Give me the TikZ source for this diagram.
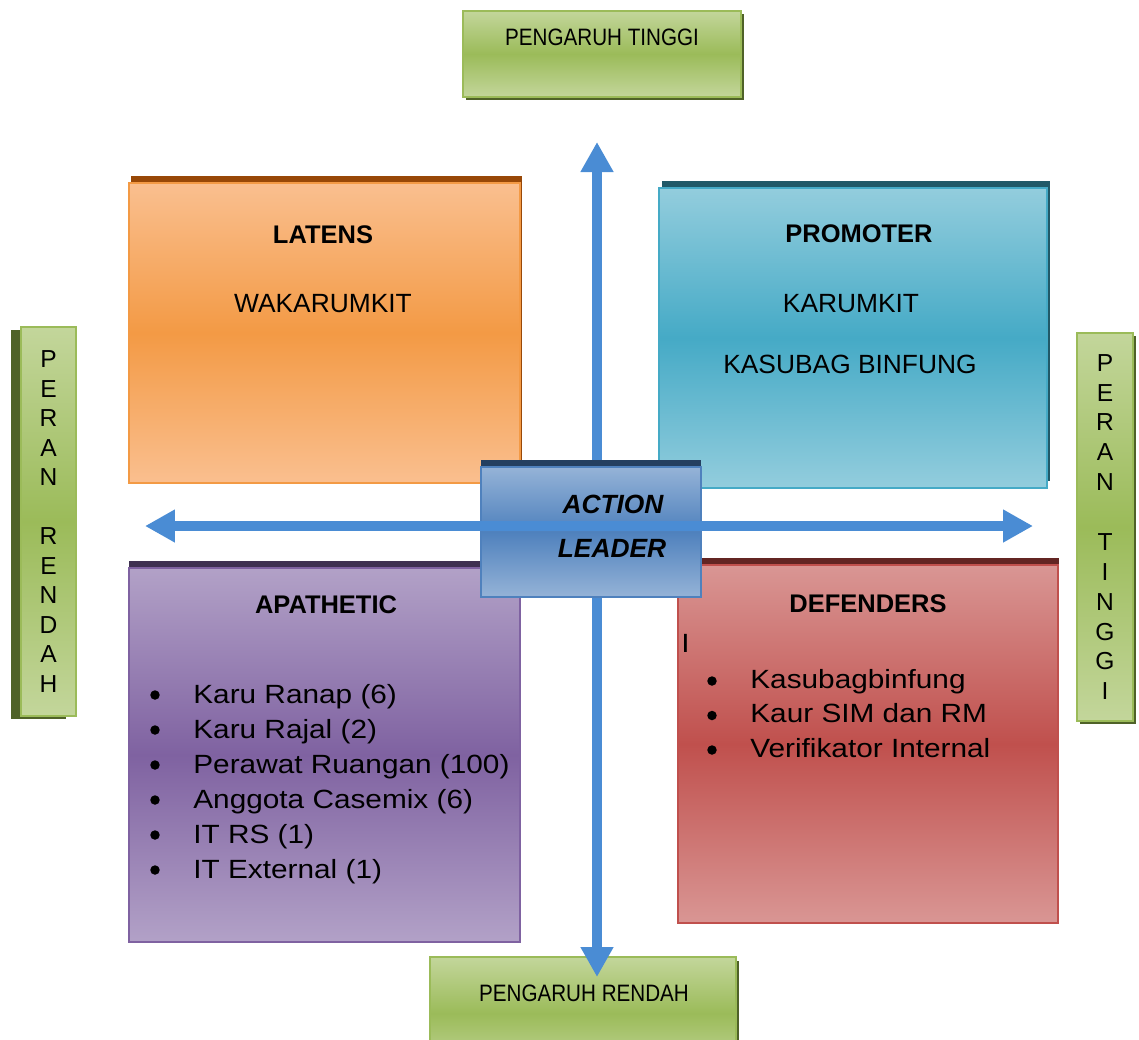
\documentclass[tikz,border=0pt]{standalone}
\usepackage{fontspec}
\setmainfont{Liberation Sans}
\newfontfamily\narrowfont{Liberation Sans}[FakeStretch=0.87]
\newfontfamily\listfont{Liberation Sans}[FakeStretch=1.13]
\usepackage{tikz}
\usetikzlibrary{arrows.meta}
\usetikzlibrary{shadows}
\usetikzlibrary{fit}

\definecolor{orangeL}{HTML}{FABF8F}
\definecolor{orangeM}{HTML}{F39A45}
\definecolor{orangeD}{HTML}{984807}
\definecolor{tealL}{HTML}{93CDDD}
\definecolor{tealM}{HTML}{45AAC6}
\definecolor{tealD}{HTML}{215968}
\definecolor{blueL}{HTML}{95B3D7}
\definecolor{blueM}{HTML}{4F81BD}
\definecolor{blueD}{HTML}{243F60}
\definecolor{purpleL}{HTML}{B2A1C7}
\definecolor{purpleM}{HTML}{7F62A1}
\definecolor{purpleD}{HTML}{3F3151}
\definecolor{redL}{HTML}{D99694}
\definecolor{redM}{HTML}{C0504D}
\definecolor{redD}{HTML}{632523}
\definecolor{greenL}{HTML}{C3D69B}
\definecolor{greenM}{HTML}{9BBB59}
\definecolor{greenD}{HTML}{4F6228}
\definecolor{axisblue}{HTML}{4A8CD4}

\tikzset{
    quadrant/.style n args={4}{inner sep=0pt, draw=#2, line width=1.1pt,
        top color=#1, bottom color=#1, middle color=#2,
        general shadow={fill=#3, shadow xshift=#4, shadow yshift=0.15cm}},
    greenbox/.style 2 args={inner sep=0pt, draw=greenM, line width=1.1pt,
        top color=greenL, bottom color=greenL, middle color=greenM,
        general shadow={fill=greenD, shadow xshift=#1, shadow yshift=#2}},
    axisarrow/.style={draw=axisblue, line width=0.2cm,
        {Triangle[width=0.62cm,length=0.6cm]}-{Triangle[width=0.62cm,length=0.6cm]}},
    quadtitle/.style={anchor=base, inner sep=0pt, font=\fontsize{14.5}{17}\selectfont\bfseries},
    quadentry/.style={anchor=base, inner sep=0pt, font=\fontsize{15}{18}\selectfont},
    listitem/.style={anchor=base west, inner sep=0pt, font=\fontsize{15}{18}\listfont},
    dot/.style={fill=black},
    leadertext/.style={anchor=base, inner sep=0pt, font=\fontsize{15}{18}\selectfont\bfseries\itshape},
    axislabel/.style={anchor=base, inner sep=0pt, font=\fontsize{13.5}{16}\narrowfont},
    vertlabel/.style={align=center, inner sep=0pt, font=\fontsize{14}{16.8}\selectfont}
}

\begin{document}
\begin{tikzpicture}[x=0.02cm, y=-0.02cm]
\useasboundingbox (0,0) rectangle (1139,1039);

% labels of the two axes
\node[greenbox={0.06cm}{-0.06cm}, fit={(463,11) (741,97)}] (high influence) {};
\node[axislabel] at (602,45) {PENGARUH TINGGI};
\node[greenbox={0.06cm}{-0.08cm}, fit={(430,957) (736,1070)}] (low influence) {};
\node[axislabel] at (584,1001) {PENGARUH RENDAH};
\node[greenbox={-0.2cm}{-0.06cm}, fit={(21,327) (76,716)}] (low role) {};
\node[vertlabel] at (low role) {P\\E\\R\\A\\N\\[16.8pt]R\\E\\N\\D\\A\\H};
\node[greenbox={0.06cm}{-0.06cm}, fit={(1077,333) (1133,721)}] (high role) {};
\node[vertlabel, font=\fontsize{14}{17}\selectfont] at (high role) {P\\E\\R\\A\\N\\[17pt]T\\I\\N\\G\\G\\I};

% the four quadrants
\node[quadrant={orangeL}{orangeM}{orangeD}{0.04cm}, fit={(129,183) (520,483)}] (latens) {};
\node[quadtitle] at (323,243) {LATENS};
\node[quadentry] at (323,312) {WAKARUMKIT};

\node[quadrant={tealL}{tealM}{tealD}{0.06cm}, fit={(659,188) (1047,488)}] (promoter) {};
\node[quadtitle] at (859,242) {PROMOTER};
\node[quadentry] at (851,312) {KARUMKIT};
\node[quadentry] at (850,373) {KASUBAG BINFUNG};

\node[quadrant={purpleL}{purpleM}{purpleD}{0cm}, fit={(129,568) (520,942)}] (apathetic) {};
\node[quadtitle] at (326,613) {APATHETIC};
\foreach \who [count=\i] in {Karu Ranap (6), Karu Rajal (2), Perawat Ruangan (100),
    Anggota Casemix (6), IT RS (1), IT External (1)} {
  \fill[dot] (155,{695+35*(\i-1)}) circle (2.7pt);
  \node[listitem] at (193,{703+35*(\i-1)}) {\who};
}

\node[quadrant={redL}{redM}{redD}{0.01cm}, fit={(678,565) (1058,923)}] (defenders) {};
\node[quadtitle] at (868,612) {DEFENDERS};
\node[listitem] at (681,652) {I};
\foreach \who [count=\i] in {Kasubagbinfung, Kaur SIM dan RM, Verifikator Internal} {
  \fill[dot] (712,{681+34.5*(\i-1)}) circle (2.7pt);
  \node[listitem] at (750,{688+34.5*(\i-1)}) {\who};
}

% axes and the centre box
\coordinate (up) at (597,142);
\coordinate (down) at (597,977);
\coordinate (west) at (145,526);
\coordinate (east) at (1033,526);
\draw[axisarrow] (down) -- (up);
\node[quadrant={blueL}{blueM}{blueD}{0cm}, fit={(481,467) (701,597)}] (action) {};
\draw[axisarrow] (west) -- (east);
\node[leadertext] at (613,513) {ACTION};
\node[leadertext] at (612,557) {LEADER};
\end{tikzpicture}
\end{document}
